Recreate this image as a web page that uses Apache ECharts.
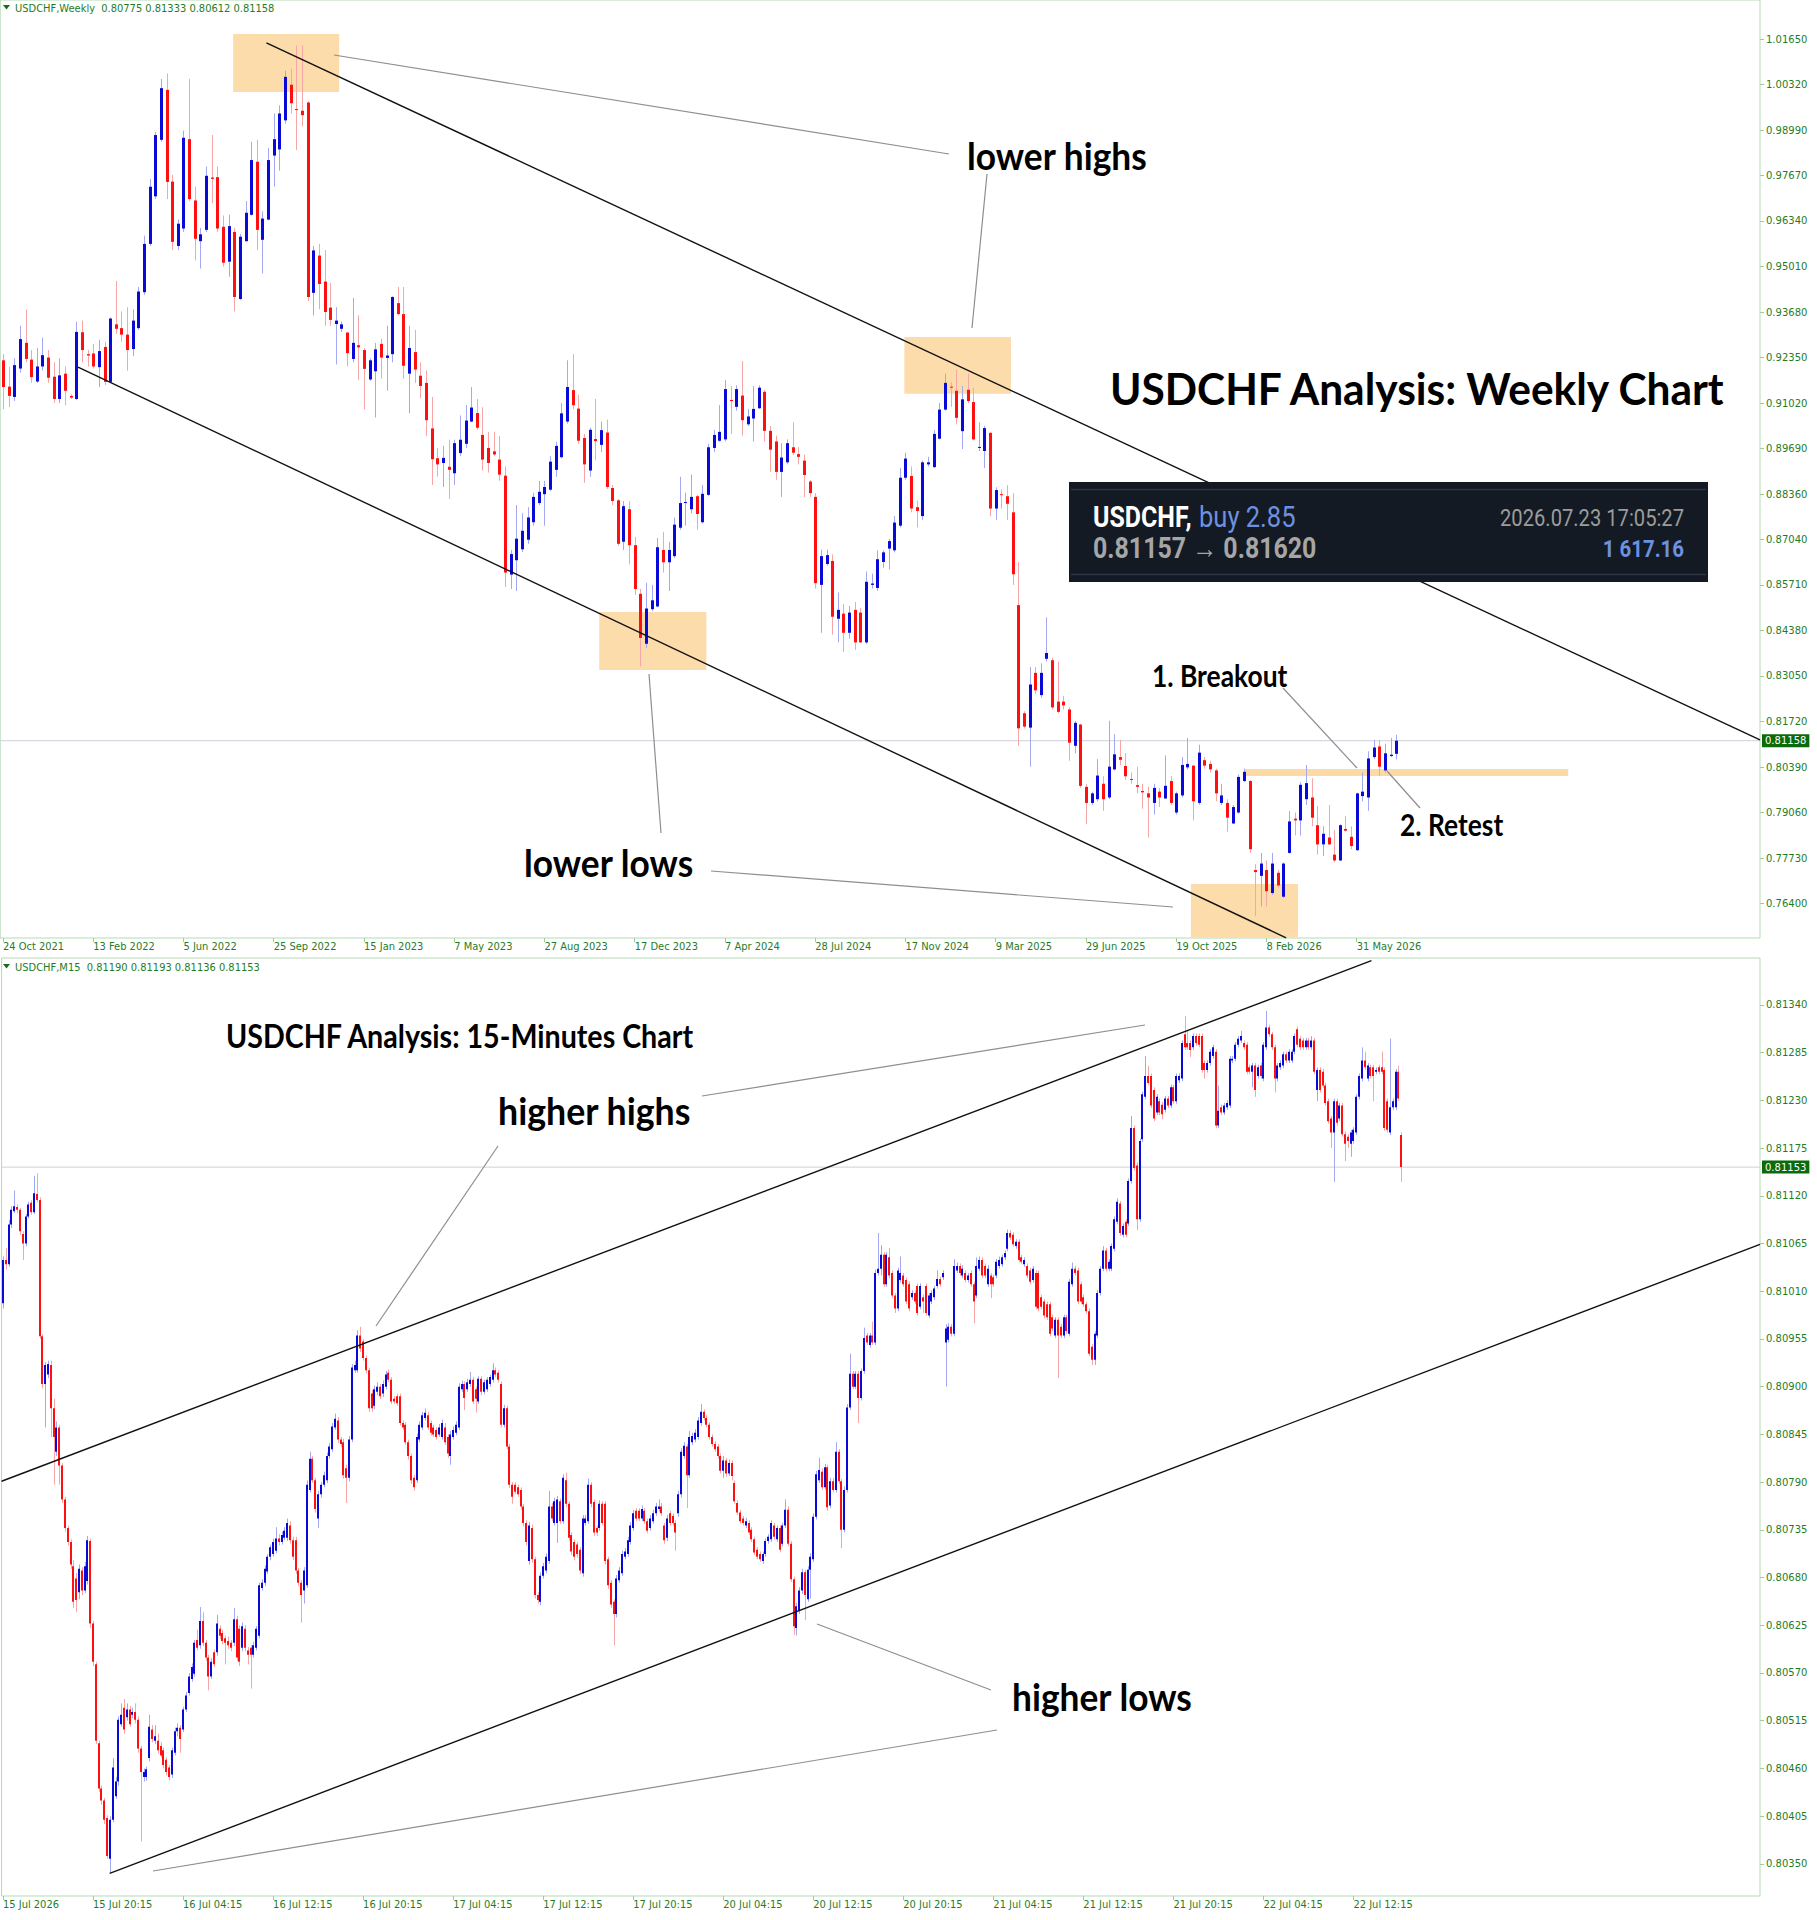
<!DOCTYPE html>
<html>
<head>
<meta charset="utf-8">
<title>USDCHF Weekly and M15</title>
<script src="https://cdn.jsdelivr.net/npm/echarts@6/dist/echarts.min.js"></script>
<style>
  html, body { margin: 0; padding: 0; background: #fff; }
  #chart { width: 1817px; height: 1920px; }
</style>
</head>
<body>
<div id="chart"></div>
<script>
// ---- weekly panel data ----
const weeklyTickLabels = ['24 Oct 2021','13 Feb 2022','5 Jun 2022','25 Sep 2022','15 Jan 2023','7 May 2023','27 Aug 2023','17 Dec 2023',
  '7 Apr 2024','28 Jul 2024','17 Nov 2024','9 Mar 2025','29 Jun 2025','19 Oct 2025','8 Feb 2026','31 May 2026'];
const weeklyPriceTicks = [1.01650,1.00320,0.98990,0.97670,0.96340,0.95010,0.93680,0.92350,0.91020,0.89690,
  0.88360,0.87040,0.85710,0.84380,0.83050,0.81720,0.80390,0.79060,0.77730,0.76400];
// open, high, low, close  (in 1/10000)
const weeklyBars = [
[9227,9245,9084,9149],[9150,9209,9090,9123],[9120,9233,9108,9213],[9203,9328,9191,9289],[9278,9376,9221,9231],[9229,9257,9161,9178],[9165,9263,9161,9209],[9209,9293,9197,9242],
[9235,9257,9161,9176],[9179,9221,9102,9114],[9114,9233,9102,9183],[9188,9209,9096,9138],[9123,9128,9114,9118],[9114,9340,9111,9310],[9309,9343,9221,9257],[9245,9257,9209,9241],
[9247,9275,9203,9209],[9207,9287,9149,9254],[9266,9281,9155,9164],[9164,9352,9161,9349],[9332,9459,9304,9319],[9321,9370,9281,9302],[9302,9382,9197,9257],[9260,9376,9239,9343],
[9321,9441,9316,9428],[9426,9591,9418,9567],[9567,9757,9561,9734],[9706,9894,9698,9885],[9871,10049,9865,10022],[10017,10065,9698,9748],[9749,9769,9549,9573],[9561,9638,9549,9626],
[9612,9898,9602,9877],[9873,10049,9692,9698],[9694,9734,9519,9582],[9575,9614,9495,9595],[9608,9793,9602,9766],[9761,9885,9686,9757],[9762,9793,9602,9612],[9617,9650,9501,9512],
[9515,9652,9471,9619],[9602,9614,9370,9412],[9406,9596,9403,9588],[9575,9692,9573,9658],[9652,9865,9650,9812],[9807,9871,9549,9608],[9579,9662,9481,9641],[9638,9847,9636,9812],
[9825,9948,9734,9873],[9843,9972,9781,9948],[9928,10073,9918,10055],[10032,10079,9948,9978],[9961,10147,9841,9959],[9956,10148,9910,9943],[9980,9984,9400,9412],[9424,9561,9358,9548],
[9533,9567,9376,9450],[9457,9549,9328,9368],[9381,9453,9328,9345],[9333,9382,9215,9343],[9319,9340,9310,9332],[9308,9310,9209,9248],[9231,9409,9221,9278],[9271,9358,9170,9265],
[9257,9263,9084,9202],[9171,9233,9167,9227],[9195,9278,9060,9259],[9275,9290,9173,9235],[9234,9328,9138,9241],[9245,9414,9221,9412],[9394,9441,9358,9362],[9362,9441,9173,9211],
[9188,9328,9072,9263],[9251,9316,9161,9200],[9182,9221,9116,9152],[9161,9197,9006,9052],[9028,9120,8863,8938],[8941,8971,8887,8923],[8927,8977,8857,8942],[8916,8995,8822,8907],
[8897,8995,8863,8985],[8956,9066,8947,8995],[8983,9096,8971,9051],[9048,9149,9046,9089],[9073,9114,9024,9030],[9009,9090,8905,8937],[8971,9018,8899,8927],[8961,9018,8947,8952],
[8937,9006,8875,8893],[8890,8917,8565,8607],[8601,8673,8559,8661],[8643,8804,8553,8706],[8675,8780,8667,8729],[8703,8798,8691,8768],[8754,8840,8744,8828],[8810,8875,8804,8843],
[8836,8875,8744,8857],[8849,8947,8846,8931],[8907,8989,8887,8977],[8944,9102,8941,9072],[9048,9227,9042,9149],[9140,9245,9084,9096],[9086,9126,8983,8992],[9000,9012,8869,8923],
[8905,9030,8887,9024],[8997,9114,8935,8991],[8980,9048,8959,9023],[9016,9054,8851,8857],[8854,8863,8804,8816],[8818,8822,8685,8691],[8697,8816,8673,8801],[8792,8816,8631,8687],
[8687,8711,8542,8559],[8545,8559,8333,8416],[8399,8577,8387,8502],[8500,8571,8494,8526],[8508,8708,8506,8681],[8673,8726,8607,8637],[8637,8697,8553,8673],[8655,8768,8649,8747],
[8738,8887,8732,8810],[8811,8840,8744,8813],[8792,8893,8780,8828],[8830,8834,8732,8778],[8754,8863,8750,8837],[8834,8983,8830,8973],[8971,9024,8959,9009],[8992,9096,8989,9018],
[8996,9169,8990,9143],[9111,9152,9012,9108],[9091,9154,9080,9143],[9124,9225,9007,9052],[9040,9085,9035,9063],[9057,9152,8990,9085],[9087,9154,9085,9147],[9135,9141,8990,9021],
[9021,9035,8901,8966],[8990,9007,8878,8901],[8901,8985,8828,8943],[8929,8996,8923,8985],[8973,9046,8951,8957],[8953,8973,8923,8945],[8934,8951,8828,8892],[8873,8878,8828,8839],
[8828,8839,8560,8576],[8571,8674,8431,8655],[8632,8674,8627,8658],[8641,8660,8426,8478],[8472,8549,8403,8498],[8487,8515,8375,8431],[8431,8509,8414,8490],[8498,8521,8381,8403],
[8490,8504,8401,8403],[8403,8610,8398,8580],[8571,8604,8560,8575],[8562,8672,8554,8646],[8638,8672,8621,8666],[8677,8705,8616,8699],[8672,8772,8666,8753],[8744,8912,8739,8884],
[8884,8957,8878,8940],[8889,8917,8783,8794],[8798,8817,8739,8787],[8772,8934,8761,8929],[8923,8945,8917,8929],[8915,9024,8912,9012],[8998,9102,8996,9083],[9083,9188,9080,9161],
[9150,9163,9091,9148],[9138,9199,9040,9059],[9020,9152,8968,9113],[9141,9188,9102,9108],[9105,9147,8993,8996],[8971,9046,8962,8974],[8962,9035,8912,9029],[9015,9018,8772,8794],
[8794,8856,8761,8848],[8836,8850,8794,8834],[8830,8862,8761,8808],[8783,8839,8571,8602],[8512,8638,8101,8152],[8196,8202,8152,8157],[8154,8331,8040,8280],[8314,8331,8252,8263],
[8249,8342,8241,8314],[8355,8476,8347,8372],[8351,8358,8207,8213],[8230,8347,8196,8200],[8230,8247,8207,8219],[8207,8213,8057,8110],[8101,8174,8079,8168],[8163,8165,7978,7984],
[7981,7990,7872,7934],[7934,7967,7928,7962],[7945,8062,7939,8014],[7990,8012,7911,7945],[7950,8174,7945,8040],[8032,8135,8029,8076],[8068,8118,8045,8060],[8042,8079,8001,8012],
[8004,8023,7990,8001],[7986,8040,7962,7981],[7969,7990,7917,7965],[7962,7981,7833,7950],[7934,7990,7900,7978],[7967,7978,7922,7950],[7947,8073,7945,7984],[7998,8012,7928,7934],
[7906,7967,7900,7962],[7956,8068,7950,8045],[8038,8124,8032,8048],[8043,8045,7883,7939],[7934,8104,7928,8081],[8059,8068,8034,8043],[8048,8057,8023,8032],[8029,8034,7939,7962],
[7934,7990,7928,7956],[7934,7945,7850,7891],[7874,7928,7872,7922],[7906,8017,7902,8010],[7998,8034,7995,8025],[7998,8001,7788,7799],[7738,7755,7604,7732],[7721,7788,7632,7757],
[7738,7766,7632,7676],[7671,7788,7665,7757],[7730,7738,7688,7693],[7660,7760,7656,7757],[7788,7911,7786,7880],[7888,7906,7839,7883],[7883,7995,7839,7987],[7945,8045,7928,7992],
[7950,8006,7866,7891],[7869,7925,7783,7813],[7813,7866,7779,7844],[7833,7928,7811,7813],[7783,7855,7760,7766],[7766,7872,7764,7869],[7858,7895,7850,7853],[7835,7866,7799,7808],
[7796,7964,7794,7962],[7954,8023,7939,7967],[7950,8085,7911,8064],[8068,8118,8062,8096],[8099,8118,8012,8040],[8029,8107,8023,8079],[8071,8124,8068,8075],[8077.5,8133.3,8061.2,8115.8]
];
const weeklyLast = 0.81158;

// ---- 15 minute panel data ----
const m15TickLabels = ['15 Jul 2026','15 Jul 20:15','16 Jul 04:15','16 Jul 12:15','16 Jul 20:15','17 Jul 04:15','17 Jul 12:15','17 Jul 20:15',
  '20 Jul 04:15','20 Jul 12:15','20 Jul 20:15','21 Jul 04:15','21 Jul 12:15','21 Jul 20:15','22 Jul 04:15','22 Jul 12:15'];
const m15PriceTicks = [0.81340,0.81285,0.81230,0.81175,0.81120,0.81065,0.81010,0.80955,0.80900,0.80845,
  0.80790,0.80735,0.80680,0.80625,0.80570,0.80515,0.80460,0.80405,0.80350];
// open, high, low, close  (in 1/100000 above 0.80000)
const m15Bars = [
[996,1050,990,1046],[1046,1060,1035,1041],[1041,1092,1038,1087],[1087,1108,1083,1104],[1102,1126,1100,1108],[1107,1110,1100,1104],[1104,1106,1075,1079],[1076,1079,1046,1065],[1065,1099,1062,1096],[1096,1113,1094,1110],
[1112,1115,1098,1101],[1101,1143,1099,1123],[1122,1146,1112,1115],[1115,1118,955,958],[958,960,898,903],[903,928,853,925],[914,930,910,926],[925,930,842,875],[875,886,787,842],[825,860,820,853],
[853,856,787,809],[809,812,766,770],[770,773,733,737],[737,740,717,721],[721,724,690,695],[693,700,645,652],[679,685,640,654],[663,695,655,690],[688,692,660,665],[665,698,662,693],
[676,728,672,723],[722,725,622,627],[627,630,578,583],[580,583,488,492],[489,492,433,437],[437,440,418,423],[423,426,396,401],[403,406,356,359],[356,405,340,401],[401,472,398,461],
[428,450,425,445],[445,520,440,516],[511,535,508,522],[530,540,500,505],[519,535,515,528],[528,532,508,511],[522,530,518,525],[525,535,512,516],[516,520,478,483],[483,486,376,456],
[450,460,445,456],[450,462,446,459],[472,522,468,508],[505,510,490,494],[492,510,488,497],[492,500,477,481],[486,490,472,475],[481,484,460,464],[470,473,452,456],[461,464,446,450],
[453,484,449,481],[478,507,475,503],[503,512,497,507],[507,510,478,494],[505,531,502,528],[528,548,525,544],[547,570,544,566],[563,581,560,577],[569,608,566,605],[608,620,596,599],
[602,646,598,630],[630,640,601,605],[605,608,584,588],[588,591,550,566],[566,587,563,583],[594,597,577,580],[594,637,590,627],[621,625,609,613],[616,620,603,607],[610,613,580,605],
[607,612,598,602],[605,608,595,599],[605,645,601,632],[632,636,584,588],[621,625,578,583],[599,628,595,624],[621,625,595,599],[596,600,580,591],[599,602,552,591],[591,606,588,602],
[599,624,596,621],[613,674,610,671],[668,678,665,674],[674,694,670,690],[687,707,684,704],[704,718,700,715],[707,725,704,721],[711,738,708,725],[725,730,717,721],[721,733,718,729],
[726,738,723,734],[726,748,722,743],[740,745,719,723],[723,727,700,704],[723,727,684,688],[688,691,670,674],[674,677,628,660],[665,692,650,688],[671,792,668,787],[781,825,778,817],
[817,820,789,792],[792,795,755,759],[748,780,737,776],[776,790,772,787],[787,802,784,798],[792,824,789,820],[820,835,817,831],[828,858,825,854],[853,869,850,863],[861,865,835,839],
[839,842,830,834],[836,840,794,798],[806,810,766,795],[795,843,791,839],[839,926,836,922],[919,930,916,925],[919,965,916,959],[959,969,940,944],[952,955,930,933],[933,936,915,919],
[919,922,871,875],[892,896,871,875],[878,901,874,897],[894,905,890,900],[900,903,886,889],[892,907,888,903],[900,918,897,914],[916,920,905,908],[908,911,880,883],[886,889,880,883],
[889,892,878,881],[889,892,855,858],[858,861,850,853],[856,859,833,836],[836,839,816,820],[820,823,788,792],[795,798,780,784],[792,846,789,842],[839,860,836,856],[853,871,850,867],
[864,875,861,870],[867,871,850,853],[858,861,844,847],[853,856,842,845],[850,853,839,842],[845,857,842,853],[842,862,839,858],[853,858,833,836],[842,845,818,823],[820,849,810,845],
[842,854,839,850],[847,860,844,856],[853,904,850,900],[897,907,894,903],[903,906,873,887],[897,909,894,905],[903,917,900,908],[908,911,880,883],[897,900,870,886],[883,912,880,909],
[909,912,890,894],[894,908,891,905],[897,911,894,908],[903,914,900,911],[908,927,905,919],[919,922,911,914],[916,919,905,908],[903,906,853,856],[856,879,853,875],[875,878,828,831],
[831,834,783,787],[787,790,765,773],[787,790,776,779],[784,787,773,776],[781,784,758,762],[762,765,739,743],[743,746,717,721],[699,744,695,740],[737,741,697,701],[701,704,656,660],
[660,663,650,654],[652,686,648,682],[682,697,679,693],[688,708,685,704],[699,780,696,762],[762,766,745,748],[743,772,740,768],[743,774,720,770],[768,771,742,745],[745,799,742,795],
[792,801,761,765],[765,768,722,726],[729,732,706,710],[721,724,700,704],[718,721,703,707],[712,715,684,688],[685,752,681,748],[743,752,740,748],[745,794,742,787],[787,790,761,765],
[767,770,728,732],[737,740,728,732],[737,769,734,765],[765,768,740,743],[765,768,695,699],[701,704,667,671],[674,677,645,649],[652,655,602,638],[638,683,634,679],[677,692,674,688],
[685,711,682,707],[704,714,701,710],[707,727,704,723],[721,744,718,740],[737,758,734,754],[757,760,745,748],[757,760,745,748],[748,763,745,759],[757,760,742,745],[745,748,731,734],
[737,752,734,748],[745,758,742,754],[754,766,751,762],[759,770,756,762],[762,766,751,754],[740,743,719,723],[726,752,722,748],[754,757,740,743],[751,754,740,743],[743,746,711,732],
[754,780,750,776],[776,829,772,825],[820,836,817,832],[831,834,760,798],[798,849,795,842],[836,847,833,843],[839,851,836,847],[842,865,839,861],[858,880,855,871],[871,874,861,864],
[864,867,853,856],[856,859,839,842],[842,845,831,834],[834,837,825,828],[831,834,817,820],[820,823,800,803],
[803,820,795,815],[815,818,796,800],[800,816,797,812],[812,815,792,797],[789,792,765,768],[766,769,752,755],[755,758,742,745],[748,751,740,743],[740,749,737,745],[743,746,729,732],
[735,738,721,724],[724,727,706,709],[712,715,701,704],[707,710,698,701],[699,710,696,707],[707,725,704,722],[722,730,719,727],[724,746,721,743],[740,743,724,727],[724,740,721,737],
[737,740,709,712],[719,743,716,740],[740,770,737,758],[758,762,716,719],[719,722,675,678],[678,681,614,624],[622,651,613,647],[642,669,638,665],[665,690,661,686],[686,689,631,660],
[655,693,652,689],[689,708,656,704],[701,754,698,750],[750,803,747,799],[792,818,789,804],[802,806,781,784],[784,811,781,807],[807,810,757,761],[763,795,760,791],[791,795,778,781],
[781,836,778,825],[825,828,788,791],[791,794,714,735],[735,785,732,781],[781,880,778,876],[876,938,873,915],[915,918,897,900],[900,918,897,915],[915,918,858,887],[887,921,884,918],
[918,968,915,956],[959,962,948,951],[948,962,945,959],[959,975,948,951],[951,1035,948,1031],[1031,1077,1028,1036],[1036,1063,1028,1052],[1052,1055,1015,1018],[1018,1055,1015,1052],[1049,1060,1025,1028],
[1031,1034,1002,1005],[1005,1008,985,990],[990,1037,987,1034],[1023,1050,1020,1031],[1028,1031,1015,1018],[1023,1026,995,998],[1018,1021,987,990],[1003,1011,1000,1008],[1008,1011,995,998],[1016,1019,982,985],
[992,1019,989,1016],[1003,1006,985,998],[1016,1019,982,985],[982,1008,979,1005],[998,1011,995,1008],[1003,1016,1000,1013],[1016,1034,1013,1024],[1024,1027,1015,1018],[1026,1034,1023,1031],[951,972,900,967],
[954,973,951,969],[969,972,958,961],[961,1047,958,1039],[1034,1043,1031,1039],[1039,1042,1028,1031],[1028,1040,1025,1036],[1031,1034,1020,1023],[1023,1031,1020,1028],[1031,1034,1015,1018],[1018,1021,973,998],
[1005,1049,1002,1039],[1036,1050,1033,1046],[1046,1049,1025,1028],[1039,1042,1025,1028],[1018,1040,1015,1036],[1028,1031,1002,1018],[1026,1029,1015,1018],[1028,1047,1025,1044],[1039,1050,1036,1046],[1041,1052,1038,1049],
[1049,1057,1046,1054],[1059,1081,1056,1077],[1077,1080,1069,1072],[1075,1078,1061,1064],[1062,1070,1059,1067],[1067,1070,1043,1046],[1049,1052,1041,1044],[1041,1049,1038,1046],[1039,1042,1025,1028],[1034,1037,1018,1021],
[1023,1039,1020,1036],[1031,1034,989,992],[1031,1034,987,990],[1003,1006,989,992],[998,1001,979,982],[995,998,977,980],[995,998,958,961],[980,983,964,967],[959,980,956,977],[977,980,910,959],
[969,972,956,959],[959,983,956,980],[980,983,961,964],[961,1024,958,1021],[1018,1043,1015,1036],[1036,1039,1028,1031],[1034,1037,995,998],[1018,1021,995,998],[1003,1006,992,995],[995,998,984,987],
[987,990,935,938],[946,949,925,931],[931,964,925,961],[959,1011,956,1008],[1008,1039,1005,1036],[1036,1062,1033,1057],[1057,1060,1033,1036],[1036,1047,1033,1044],[1036,1065,1033,1062],[1059,1096,1056,1093],
[1090,1117,1087,1113],[1111,1114,1074,1077],[1075,1088,1072,1085],[1090,1093,1072,1075],[1088,1140,1085,1137],[1137,1212,1134,1198],[1198,1201,1149,1152],[1155,1158,1080,1093],[1093,1186,1090,1183],[1185,1240,1182,1237],
[1234,1281,1231,1258],[1258,1270,1247,1250],[1258,1261,1221,1224],[1242,1245,1206,1209],[1216,1237,1213,1234],[1229,1232,1213,1216],[1225,1228,1208,1214],[1219,1235,1216,1232],[1232,1235,1221,1224],[1224,1248,1221,1245],
[1245,1248,1226,1229],[1229,1261,1226,1258],[1253,1261,1250,1258],[1255,1299,1252,1296],[1306,1327,1288,1291],[1296,1310,1288,1291],[1296,1299,1280,1288],[1291,1307,1288,1304],[1304,1307,1293,1296],[1304,1307,1291,1294],
[1304,1307,1262,1265],[1273,1276,1255,1265],[1265,1276,1262,1273],[1273,1289,1270,1286],[1281,1294,1278,1291],[1286,1289,1198,1201],[1201,1247,1198,1218],[1222,1225,1213,1216],[1216,1227,1213,1224],[1222,1230,1219,1227],
[1224,1281,1221,1278],[1276,1281,1273,1278],[1278,1297,1275,1294],[1294,1304,1291,1301],[1299,1310,1296,1304],[1296,1299,1288,1291],[1294,1297,1260,1263],[1268,1271,1260,1263],[1263,1273,1245,1270],[1270,1273,1234,1242],
[1258,1271,1255,1268],[1270,1273,1255,1258],[1255,1297,1252,1294],[1291,1333,1288,1314],[1314,1317,1303,1306],[1306,1309,1288,1291],[1291,1294,1239,1255],[1255,1273,1252,1270],[1268,1276,1265,1273],[1270,1286,1267,1283],
[1283,1286,1273,1276],[1276,1289,1273,1286],[1276,1289,1273,1286],[1286,1307,1283,1304],[1312,1315,1291,1294],[1301,1304,1288,1291],[1299,1302,1288,1291],[1291,1302,1288,1299],[1299,1302,1288,1291],[1291,1304,1288,1299],
[1299,1302,1260,1263],[1242,1268,1229,1265],[1265,1268,1239,1242],[1263,1266,1244,1247],[1247,1250,1224,1227],[1229,1232,1203,1206],[1209,1212,1175,1193],[1193,1232,1136,1229],[1229,1232,1201,1204],[1209,1227,1206,1224],
[1224,1227,1188,1191],[1191,1194,1160,1180],[1188,1191,1175,1183],[1180,1196,1165,1193],[1183,1199,1180,1196],[1193,1237,1190,1234],[1234,1261,1231,1258],[1255,1291,1252,1276],[1276,1286,1265,1268],[1255,1273,1252,1270],
[1268,1271,1255,1258],[1268,1271,1229,1258],[1263,1268,1260,1265],[1268,1271,1260,1263],[1268,1286,1260,1263],[1265,1268,1195,1198],[1229,1232,1193,1196],[1193,1301,1190,1222],[1222,1232,1219,1229],[1222,1266,1219,1263],
[1263,1270,1229,1232],[1190,1193,1136,1153]
];
const m15Last = 0.81153;

// ---- drawn annotations (bar index, price) ----
const weeklyTrendUpper = [[46.7, 1.0154], [311.5, 0.8118]];
const weeklyTrendLower = [[13.3, 0.9207], [227.5, 0.7540]];
const weeklyRetestLevel = [[220.2, 0.8023], [277.5, 0.8023]];
const weeklyBoxes = [[40.8, 59.6, 1.0180, 1.0011], [159.8, 178.7, 0.9295, 0.9129],
                     [105.7, 124.7, 0.8492, 0.8322], [210.6, 229.6, 0.7697, 0.7540]];
const m15ChannelUpper = [[-0.5, 0.80791], [486.4, 0.81391]];
const m15ChannelLower = [[37.9, 0.80339], [624.5, 0.81064]];

var chart = echarts.init(document.getElementById('chart'), null, { renderer: 'svg' });

var GREEN = '#1f7d1f';
var FRAME = '#b6d9b6';
var AXIS_FONT = '"DejaVu Sans Condensed", "Liberation Sans Narrow", "DejaVu Sans", sans-serif';

function candleRenderer(bodyW) {
  return function (params, api) {
    var i = api.value(0), o = api.value(1), h = api.value(2), l = api.value(3), c = api.value(4);
    var po = api.coord([i, o]), pc = api.coord([i, c]);
    var yh = api.coord([i, h])[1], yl = api.coord([i, l])[1];
    var up = c >= o;
    var xc = Math.round(po[0]);
    var top = Math.min(po[1], pc[1]), bot = Math.max(po[1], pc[1]);
    if (bot - top < 1) { bot = top + 1; }
    var bx = bodyW % 2 ? xc - (bodyW - 1) / 2 : xc - bodyW / 2;
    return {
      type: 'group',
      children: [
        { type: 'line', shape: { x1: xc + 0.5, y1: yh, x2: xc + 0.5, y2: yl },
          style: { stroke: up ? '#a3a8f2' : '#f6a6a6', lineWidth: 1 } },
        { type: 'rect', shape: { x: bx, y: top, width: bodyW, height: bot - top },
          style: { fill: up ? '#0a0ad8' : '#ff1010' } }
      ]
    };
  };
}

function xAxisFor(grid, maxIdx, step, labels) {
  var idx = labels.map(function (_, k) { return k * step; });
  return {
    type: 'value', gridIndex: grid, min: -0.5, max: maxIdx,
    axisLine: { show: false, onZero: false }, splitLine: { show: false },
    axisTick: { show: true, customValues: idx, length: 4, lineStyle: { color: '#9ccc9c' } },
    axisLabel: { customValues: idx, align: 'left', margin: 3, color: GREEN, fontSize: 11, fontFamily: AXIS_FONT,
      formatter: function (v) { return labels[Math.round(v / step)]; } }
  };
}
function yAxisFor(grid, min, max, ticks) {
  return {
    type: 'value', gridIndex: grid, position: 'right', min: min, max: max,
    axisLine: { show: false, onZero: false }, splitLine: { show: false },
    axisTick: { show: true, inside: false, customValues: ticks, length: 4, lineStyle: { color: '#9ccc9c' } },
    axisLabel: { customValues: ticks, margin: 6, color: GREEN, fontSize: 10, fontFamily: '"DejaVu Sans", sans-serif',
      formatter: function (v) { return v.toFixed(5); } }
  };
}
function trend(xi, pts, color, width, z) {
  return { type: 'line', xAxisIndex: xi, yAxisIndex: xi, data: pts, showSymbol: false, symbol: 'none',
    silent: true, z: z, lineStyle: { color: color, width: width } };
}
function priceLine(xi, maxIdx, price, extra) {
  var s = {
    type: 'line', xAxisIndex: xi, yAxisIndex: xi, data: [[-0.5, price], [maxIdx, price]],
    symbol: 'none', silent: true, z: 1, lineStyle: { color: '#cdd0da', width: 1 },
    endLabel: { show: true, formatter: price.toFixed(5), distance: 2, color: '#ffffff',
      backgroundColor: '#0b6a0b', padding: [2, 3, 1, 3], fontSize: 10, fontFamily: '"DejaVu Sans", sans-serif' }
  };
  for (var k in extra) { s[k] = extra[k]; }
  return s;
}

var weeklyData = weeklyBars.map(function (b, i) { return [i, b[0] / 1e4, b[1] / 1e4, b[2] / 1e4, b[3] / 1e4]; });
var m15Data = m15Bars.map(function (b, i) { return [i, 0.8 + b[0] / 1e5, 0.8 + b[1] / 1e5, 0.8 + b[2] / 1e5, 0.8 + b[3] / 1e5]; });

// pixel-placed annotation layer
var pointerLines = [
  [334, 55, 949, 154], [987, 174, 972, 328], [649, 674, 661, 833], [711, 871, 1173, 907],
  [1283, 688, 1357, 768], [1387, 771, 1420, 808],
  [498, 1146, 376, 1326], [702, 1096, 1145, 1025], [991, 1690, 817, 1624], [997, 1730, 153, 1871]
];
var labels = [
  ['lower highs', 967, 156, 38, 0.93],
  ['lower lows', 524, 863, 38, 0.93],
  ['USDCHF Analysis: Weekly Chart', 1110, 388, 44, 0.965],
  ['1. Breakout', 1152, 675, 30, 0.88],
  ['2. Retest', 1400, 824, 30, 0.88],
  ['USDCHF Analysis: 15-Minutes Chart', 226, 1035, 32, 0.895],
  ['higher highs', 498, 1111, 38, 0.94],
  ['higher lows', 1012, 1697, 38, 0.93]
];
var graphics = [];
pointerLines.forEach(function (p) {
  graphics.push({ type: 'line', z: 40, silent: true, shape: { x1: p[0], y1: p[1], x2: p[2], y2: p[3] },
    style: { stroke: '#8e8e8e', lineWidth: 1.2 } });
});
labels.forEach(function (t) {
  graphics.push({ type: 'text', z: 45, silent: true, x: t[1], y: t[2], scaleX: t[4],
    style: { text: t[0], font: 'bold ' + t[3] + 'px Lato, "Open Sans", sans-serif', fill: '#000000', textVerticalAlign: 'middle' } });
});
// chart headers
[['USDCHF,Weekly  0.80775 0.81333 0.80612 0.81158', 0], ['USDCHF,M15  0.81190 0.81193 0.81136 0.81153', 959]].forEach(function (h) {
  graphics.push({ type: 'polygon', z: 45, silent: true, shape: { points: [[3, h[1] + 5], [10, h[1] + 5], [6.5, h[1] + 9.5]] },
    style: { fill: '#1c6b1c' } });
  graphics.push({ type: 'text', z: 45, silent: true, x: 15, y: h[1] + 8,
    style: { text: h[0], font: '11px ' + AXIS_FONT, fill: GREEN, textVerticalAlign: 'middle' } });
});
// trade info box
graphics.push({ type: 'rect', z: 60, silent: true, shape: { x: 1069, y: 482, width: 639, height: 100 }, style: { fill: '#131a23' } });
graphics.push({ type: 'line', z: 61, silent: true, shape: { x1: 1071, y1: 489.5, x2: 1706, y2: 489.5 }, style: { stroke: '#2e3745', lineWidth: 1.5 } });
graphics.push({ type: 'line', z: 61, silent: true, shape: { x1: 1071, y1: 574.5, x2: 1706, y2: 574.5 }, style: { stroke: '#2e3745', lineWidth: 1.5 } });
[
  ['USDCHF,', 1093, 517, 'bold 29px Roboto', '#ffffff', 'left', 0.86],
  ['buy 2.85', 1199, 517, '29px Roboto', '#6e91df', 'left', 0.88],
  ['0.81157 \u2192 0.81620', 1093, 548, 'bold 29px Roboto', '#a6a6a6', 'left', 0.86],
  ['2026.07.23 17:05:27', 1684, 517, '24px Roboto', '#9c9c9c', 'right', 0.84],
  ['1 617.16', 1684, 548, 'bold 24px Roboto', '#6e91df', 'right', 0.85]
].forEach(function (t) {
  graphics.push({ type: 'text', z: 62, silent: true, x: t[1], y: t[2], scaleX: t[6],
    style: { text: t[0], font: t[3], fill: t[4], textAlign: t[5], textVerticalAlign: 'middle' } });
});

var option = {
  animation: false,
  backgroundColor: '#ffffff',
  grid: [
    { left: 0, top: 0, width: 1760, height: 938, show: true, borderColor: FRAME, borderWidth: 1 },
    { left: 0, top: 958, width: 1760, height: 938, show: true, borderColor: FRAME, borderWidth: 1 }
  ],
  xAxis: [xAxisFor(0, 311.5, 16, weeklyTickLabels), xAxisFor(1, 624.5, 32, m15TickLabels)],
  yAxis: [yAxisFor(0, 0.75395, 1.02795, weeklyPriceTicks), yAxisFor(1, 0.80313, 0.81394, m15PriceTicks)],
  series: [
    priceLine(0, 311.5, weeklyLast, {
      markArea: { silent: true, label: { show: false }, itemStyle: { color: '#fddcab', borderWidth: 0 },
        data: weeklyBoxes.map(function (b) { return [{ coord: [b[0], b[2]] }, { coord: [b[1], b[3]] }]; }) }
    }),
    trend(0, weeklyRetestLevel, '#fdd9a6', 7, 1),
    { type: 'custom', xAxisIndex: 0, yAxisIndex: 0, data: weeklyData, renderItem: candleRenderer(3), clip: true, z: 2, silent: true,
      encode: { x: 0, y: [1, 2, 3, 4] } },
    trend(0, weeklyTrendUpper, '#111111', 1.4, 3),
    trend(0, weeklyTrendLower, '#111111', 1.4, 3),
    priceLine(1, 624.5, m15Last, {}),
    { type: 'custom', xAxisIndex: 1, yAxisIndex: 1, data: m15Data, renderItem: candleRenderer(2), clip: true, z: 2, silent: true,
      encode: { x: 0, y: [1, 2, 3, 4] } },
    trend(1, m15ChannelUpper, '#111111', 1.4, 3),
    trend(1, m15ChannelLower, '#111111', 1.4, 3)
  ],
  graphic: { elements: graphics }
};
chart.setOption(option);
</script>
</body>
</html>
